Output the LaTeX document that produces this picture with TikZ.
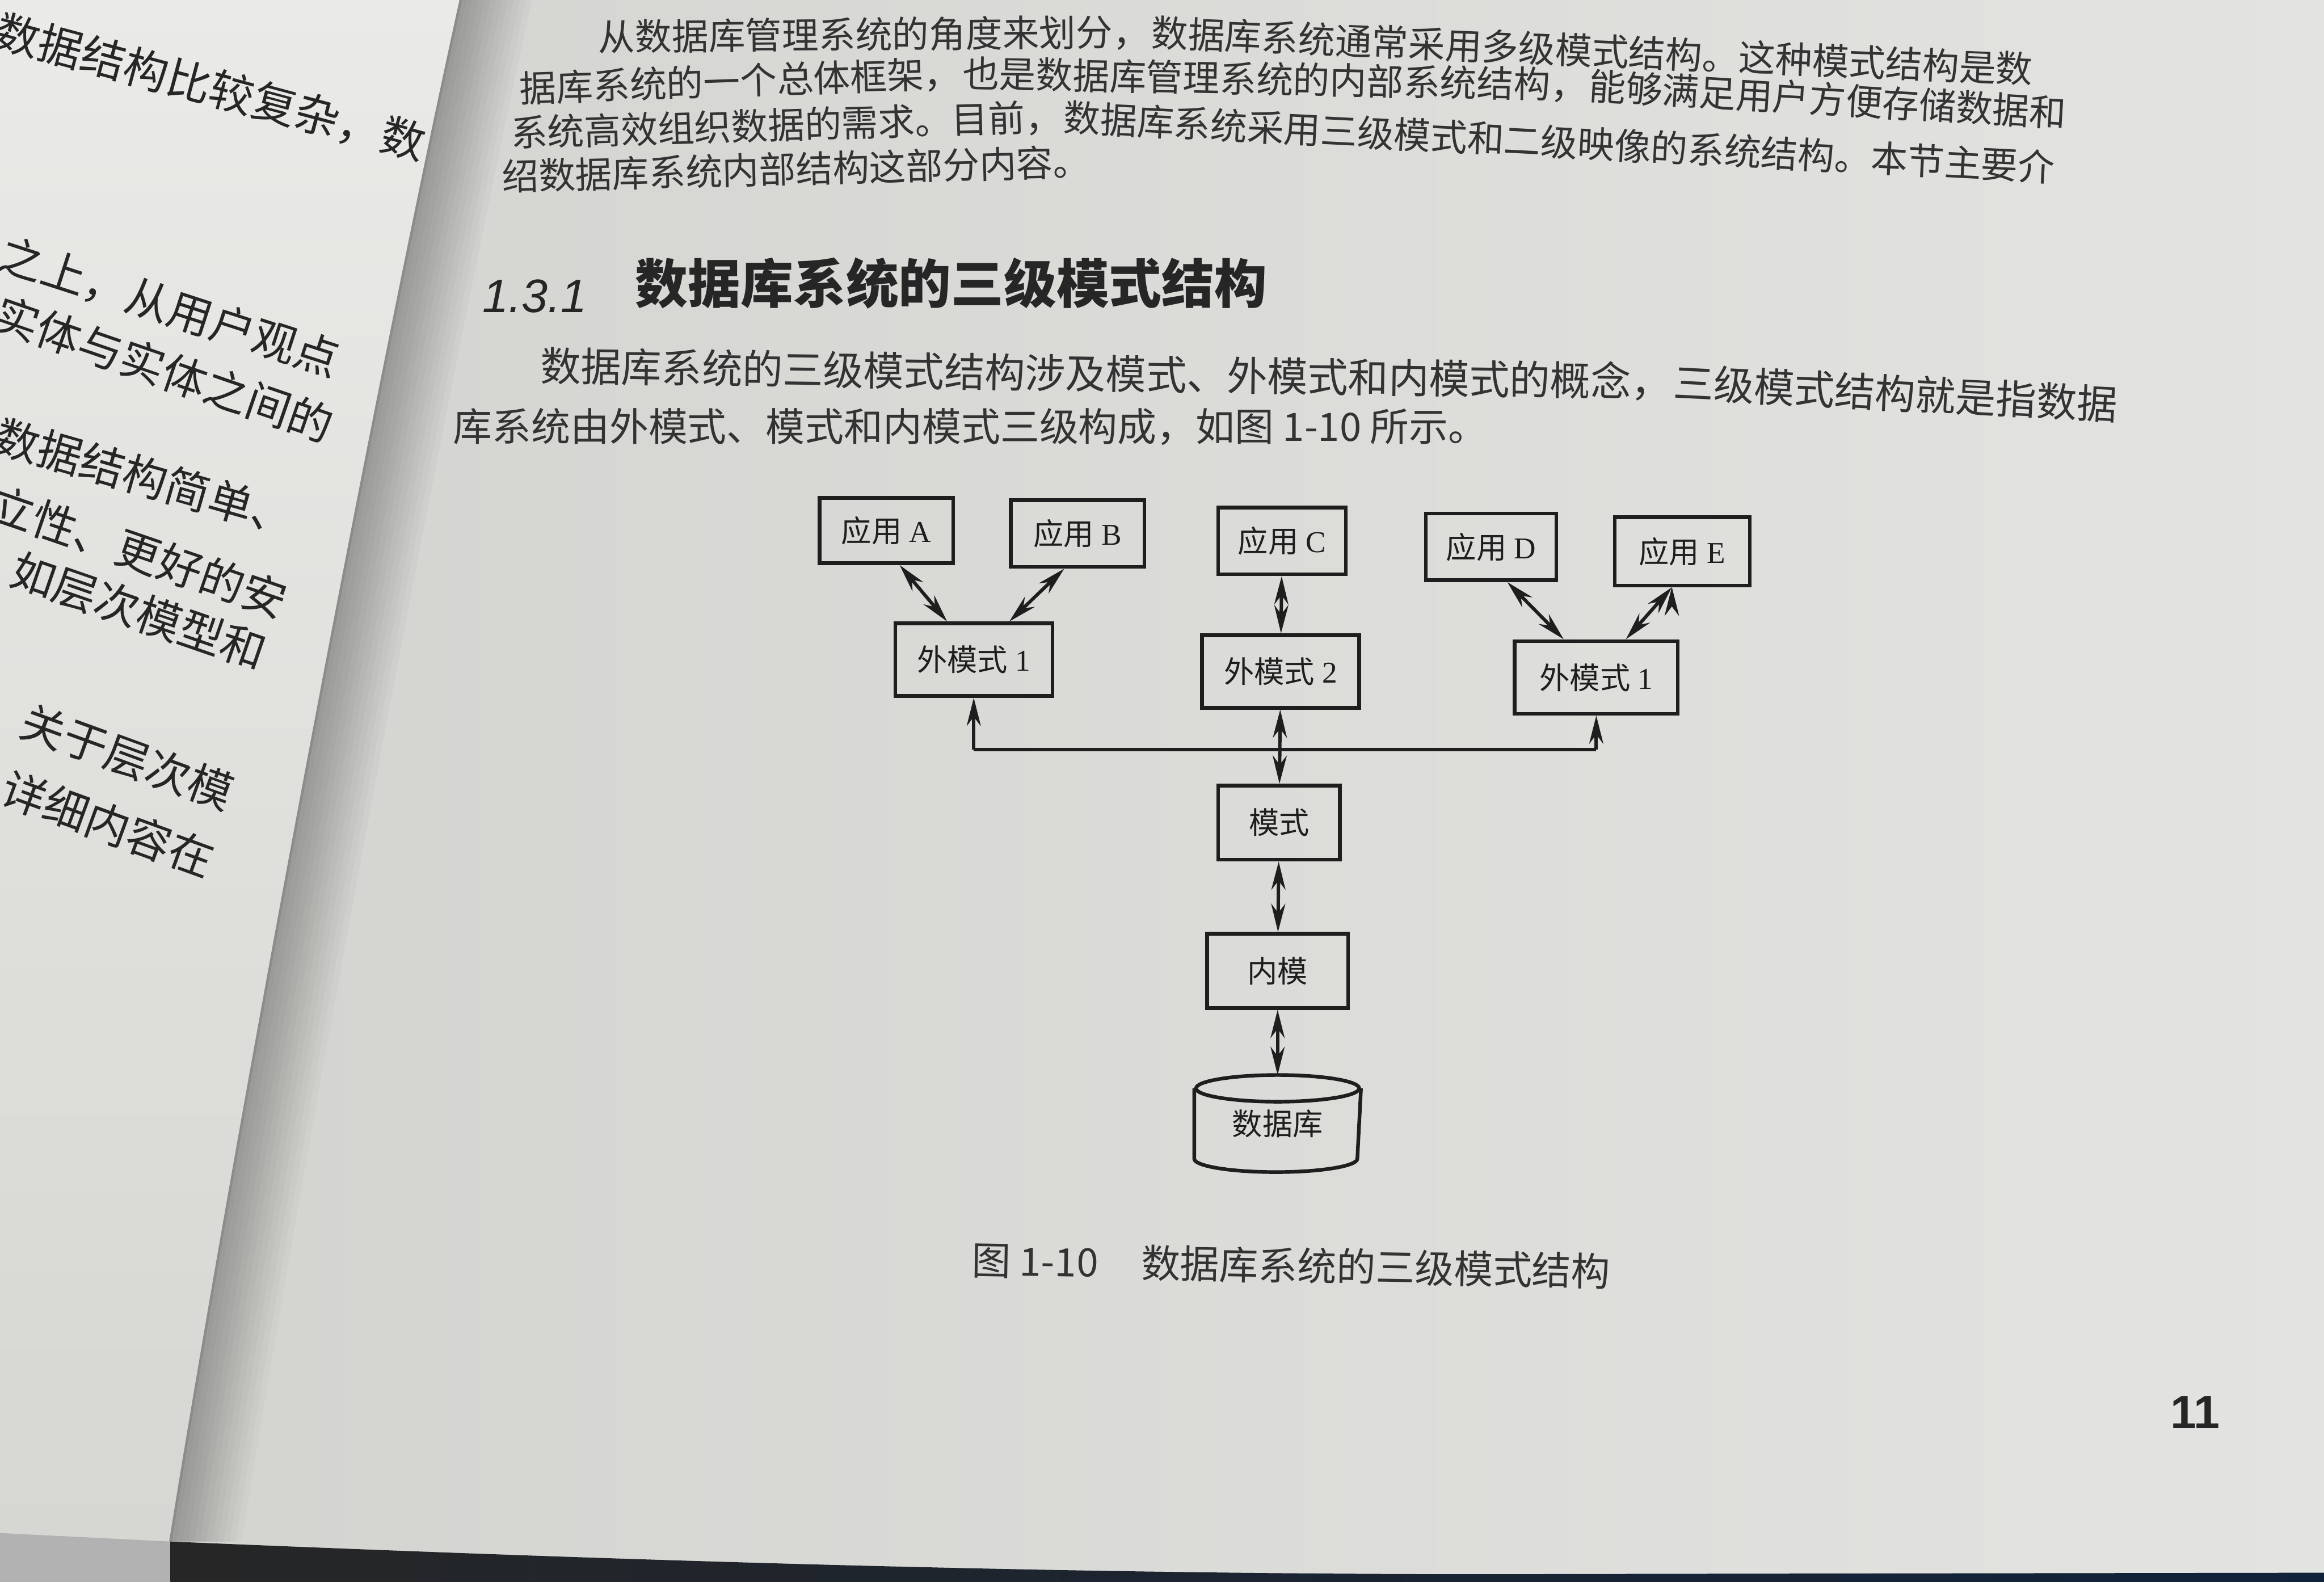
\documentclass[tikz,border=0pt]{standalone}
\usepackage{fontspec}
\setmainfont{Liberation Serif}
\newfontfamily\cjk{Noto Sans CJK SC}
\newfontfamily\headsans{Liberation Sans}
\usetikzlibrary{arrows.meta,positioning,calc}

\definecolor{ink}{RGB}{30,30,30}
\definecolor{pageR}{RGB}{227,227,225}
\definecolor{pageRdark}{RGB}{210,210,207}
\definecolor{pageL}{RGB}{234,234,232}
\definecolor{pageLlow}{RGB}{214,214,210}
\definecolor{desk}{RGB}{16,34,58}

\tikzset{
    >={Stealth[length=1.9mm,width=0.95mm]}, % long narrow heads as in the book
    boxnode/.style={draw=ink, line width=0.7pt, text=ink, inner sep=0pt,
        font=\fontsize{5.8}{7}\selectfont}, % every box of the figure
    appbox/.style={boxnode, minimum width=0.9cm, minimum height=0.44cm},
    extbox/.style={boxnode, minimum width=1.06cm, minimum height=0.49cm},
    twoway/.style={<->, draw=ink, line width=0.65pt},
    oneway/.style={->, draw=ink, line width=0.65pt},
    wire/.style={draw=ink, line width=0.65pt},
    bodyline/.style={anchor=west, inner sep=0pt, text=black!80,
        font=\cjk\fontsize{7.05}{8}\selectfont}, % running text of the page
    leftline/.style={anchor=west, inner sep=0pt, text=black!85,
        font=\cjk\fontsize{8.5}{10}\selectfont}, % the facing page
}

\begin{document}
\begin{tikzpicture}[x=0.01cm, y=-0.01cm]
  \useasboundingbox (0,0) rectangle (1568,1067);
  \clip (0,0) rectangle (1568,1067);

  % paper, gutter and desk
  \shade[left color=pageRdark, right color=pageR] (0,0) rectangle (1568,1067);
  \foreach \d in {4,8,...,48}
    \fill[black, opacity=0.022] (312,-5) .. controls (260,230) and (170,700) .. (115,1040)
      -- (115+\d,1040) .. controls (170+\d,700) and (260+\d,230) .. (312+\d,-5) -- cycle;
  \shade[top color=pageL, bottom color=pageLlow]
    (-5,-5) -- (312,-5) .. controls (260,230) and (170,700) .. (115,1040) -- (-5,1034) -- cycle;
  \draw[black!45, line width=0.5pt] (312,-5) .. controls (260,230) and (170,700) .. (115,1040);
  \fill[gray!60] (-5,1034) -- (115,1040) -- (115,1075) -- (-5,1075) -- cycle;
  \shade[left color=black!85, right color=desk]
    (115,1040) .. controls (400,1052) and (700,1062) .. (1000,1062) -- (1575,1061)
    -- (1575,1075) -- (115,1075) -- cycle;

  % facing page
  \foreach \t/\x/\y/\r [count=\i] in {
      数据结构比较复杂，数/-3/20/-15,
      之上，从用户观点/0/170/-18,
      实体与实体之间的/-3/210/-19,
      数据结构简单、/-3/293/-16,
      立性、更好的安/-6/338/-19,
      如层次模型和/8/383/-19,
      关于层次模/15/485/-20,
      详细内容在/2/530/-20}
    \node[leftline, rotate=\r] (lp_\i) at (\x,\y) {\t};

  % running text, bent with the page
  \node[bodyline, rotate=0.5] (p1_1a) at (403,25) {从数据库管理系统的角度来划分，};
  \node[bodyline, rotate=-2.4] (p1_1b) at (p1_1a.east) {数据库系统通常采用多级模式结构。这种模式结构是数};
  \node[bodyline, rotate=2.0] (p1_2a) at (350,60) {据库系统的一个总体框架，};
  \node[bodyline, rotate=-1.1] (p1_2b) at (p1_2a.east) {也是数据库管理系统的内部系统结构，};
  \node[bodyline, rotate=-3.3] (p1_2c) at (p1_2b.east) {能够满足用户方便存储数据和};
  \node[bodyline, rotate=1.7] (p1_3a) at (344,90) {系统高效组织数据的需求。目前，};
  \node[bodyline, rotate=-2.9] (p1_3b) at (p1_3a.east) {数据库系统采用三级模式和二级映像的系统结构。本节主要介};
  \node[bodyline, rotate=1.45] (p1_4) at (338,119) {绍数据库系统内部结构这部分内容。};

  \node[anchor=west, inner sep=0pt, text=black!85, font=\headsans\itshape\fontsize{9}{11}\selectfont]
    (h_num) at (325,200) {1.3.1};
  \node[anchor=west, inner sep=0pt, text=black!85,
      font=\cjk\bfseries\fontsize{10.1}{12}\selectfont] (h_txt) at (428,191) {数据库系统的三级模式结构};

  \node[bodyline, font=\cjk\fontsize{7.75}{9}\selectfont, rotate=-0.8] (p2_1a) at (364,247)
    {数据库系统的三级模式结构涉及模式、外模式和内模式的概念，};
  \node[bodyline, font=\cjk\fontsize{7.75}{9}\selectfont, rotate=-2.9] (p2_1b) at (p2_1a.east)
    {三级模式结构就是指数据};
  \node[bodyline, font=\cjk\fontsize{7.5}{9}\selectfont] (p2_2) at (305,288)
    {库系统由外模式、模式和内模式三级构成，如图 1-10 所示。};

  % figure 1-10
  \node[appbox] (app_A) at (598,358) {{\cjk 应用} A};
  \node[appbox, minimum height=0.45cm] (app_B) at (727,360) {{\cjk 应用} B};
  \node[appbox, minimum width=0.86cm, minimum height=0.45cm] (app_C) at (865,365) {{\cjk 应用} C};
  \node[appbox, minimum width=0.88cm, minimum height=0.45cm] (app_D) at (1006,369) {{\cjk 应用} D};
  \node[appbox, minimum width=0.91cm, minimum height=0.46cm] (app_E) at (1135,372) {{\cjk 应用} E};

  \node[extbox] (ext_1) at (657,445) {{\cjk 外模式} 1};
  \node[extbox] (ext_2) at (864,453) {{\cjk 外模式} 2};
  \node[extbox, minimum width=1.1cm] (ext_3) at (1077,457) {{\cjk 外模式} 1};

  \node[boxnode, minimum width=0.82cm, minimum height=0.5cm] (schema) at (863,555) {\cjk 模式};
  \node[boxnode, minimum width=0.95cm, minimum height=0.5cm] (inner) at (862,655) {\cjk 内模};
  \node[boxnode, draw=none, minimum width=1.1cm, minimum height=0.63cm] (db) at (862,758)
    {\raisebox{-0.9mm}{\cjk 数据库}};
  \draw[wire, line width=0.7pt] ([yshift=-0.09cm]db.north) ellipse [x radius=0.55cm, y radius=0.09cm];
  \draw[wire, line width=0.7pt] ([yshift=-0.09cm]db.north west) -- ([yshift=0.09cm]db.south west)
    arc [start angle=180, end angle=360, x radius=0.55cm, y radius=0.09cm]
    -- ([yshift=-0.09cm]db.north east);

  \coordinate (bus_l) at ([yshift=-0.35cm]ext_1.south);
  \coordinate (bus_r) at (bus_l -| ext_3.south);
  \draw[wire] (bus_l) -- (bus_r);
  \draw[oneway] (bus_l) -- (ext_1);
  \draw[oneway] (bus_r) -- (ext_3);

  \path[twoway]
    ([xshift=0.09cm]app_A.south) edge ([xshift=-0.18cm]ext_1.north)
    ([xshift=-0.09cm]app_B.south) edge ([xshift=0.24cm]ext_1.north)
    (app_C) edge (ext_2)
    ([xshift=0.11cm]app_D.south) edge ([xshift=-0.22cm]ext_3.north)
    ([xshift=-0.07cm]app_E.south) edge ([xshift=0.20cm]ext_3.north)
    (ext_2) edge (schema)
    (schema) edge (inner)
    (inner) edge (db);

  \node[bodyline, font=\cjk\fontsize{7.5}{9}\selectfont, rotate=-1.0] (cap) at (655,850)
    {图 1-10\hspace{1.1em}数据库系统的三级模式结构};

  \node[inner sep=0pt, text=black!85, font=\headsans\bfseries\fontsize{9}{11}\selectfont]
    (pg) at (1481,953) {11};
\end{tikzpicture}
\end{document}
